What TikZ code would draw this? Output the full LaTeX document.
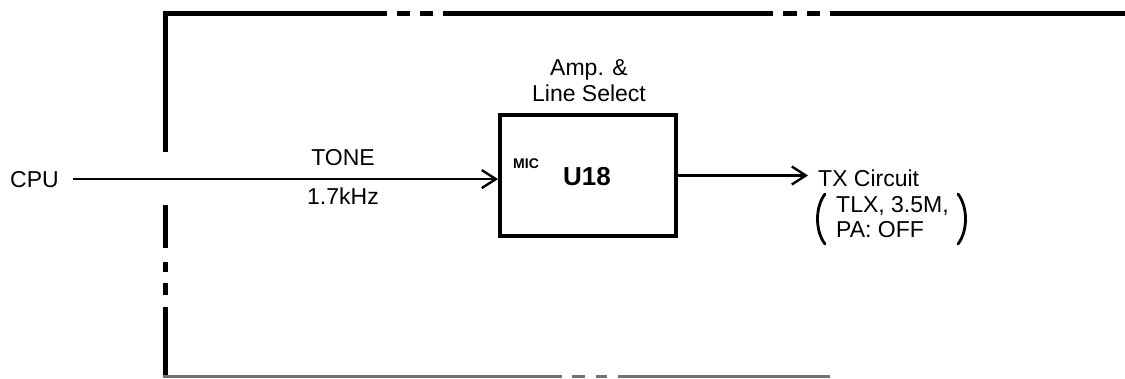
\documentclass[tikz,border=0pt]{standalone}
\usepackage{fontspec}
\setmainfont{Liberation Sans}
\usetikzlibrary{arrows.meta}
\tikzset{
  frame/.style={line width=5pt, line cap=butt, line join=miter},
  framefaint/.style={line width=3pt, line cap=butt, draw=black!55},
  sig/.style={line width=2.2pt},
  arr/.style={sig, -{Straight Barb[length=14pt, width=18pt, line width=2.4pt]}},
  txt/.style={inner sep=0pt, font=\fontsize{23}{27}\selectfont},
  blk/.style={draw, line width=4pt, minimum width=176pt, minimum height=121pt, inner sep=0pt},
  paren/.style={line width=2.8pt, line cap=round},
}
\begin{document}
\begin{tikzpicture}[x=1pt, y=-1pt]
\useasboundingbox (0,0) rectangle (1125,378);
% frame (dash-dot border)
\draw[frame] (165.5,152) -- (165.5,13.5) -- (387,13.5);
\draw[frame] (397,13.5) -- (410,13.5);
\draw[frame] (420,13.5) -- (433,13.5);
\draw[frame] (443,13.5) -- (773,13.5);
\draw[frame] (783,13.5) -- (797,13.5);
\draw[frame] (807,13.5) -- (820,13.5);
\draw[frame] (830,13.5) -- (1125,13.5);
\draw[frame] (165.5,205) -- (165.5,248);
\draw[frame] (165.5,262) -- (165.5,272);
\draw[frame] (165.5,283) -- (165.5,295);
\draw[frame] (165.5,307) -- (165.5,378);
\draw[framefaint] (163,376.5) -- (562,376.5);
\draw[framefaint] (572,376.5) -- (585,376.5);
\draw[framefaint] (596,376.5) -- (607,376.5);
\draw[framefaint] (618,376.5) -- (830,376.5);
% nodes
\node[blk] (u18) at (588,175.5) {};
\node[txt, anchor=base west] (cpu) at (10,187) {CPU};
\node[txt, anchor=base west] (tx) at (818,186) {TX Circuit};
\node[txt, anchor=base west] (tlx) at (836,212) {TLX, 3.5M,};
\node[txt, anchor=base west] (pa) at (836,237) {PA: OFF};
\draw[paren] (825,194) .. controls (815,207) and (815,231) .. (825,244);
\draw[paren] (958,194) .. controls (968,207) and (968,231) .. (958,244);
\node[txt, anchor=base] (tone) at (343,165) {TONE};
\node[txt, anchor=base] (freq) at (343,204) {1.7kHz};
\node[txt, anchor=base] (amp) at (589,75) {Amp. \&};
\node[txt, anchor=base] (ls) at (589,101) {Line Select};
\node[inner sep=0pt, anchor=base west, font=\fontsize{14}{14}\selectfont\bfseries] (mic) at (513,168) {MIC};
\node[inner sep=0pt, anchor=base, font=\fontsize{26}{26}\selectfont\bfseries] (ulab) at (587,185) {U18};
% connectors
\draw[arr] ([xshift=14pt]cpu.east) coordinate (s) -- (s -| u18.west);
\draw[arr, shorten >=10pt] (u18.east) -- (u18.east -| tx.west);
\end{tikzpicture}
\end{document}
